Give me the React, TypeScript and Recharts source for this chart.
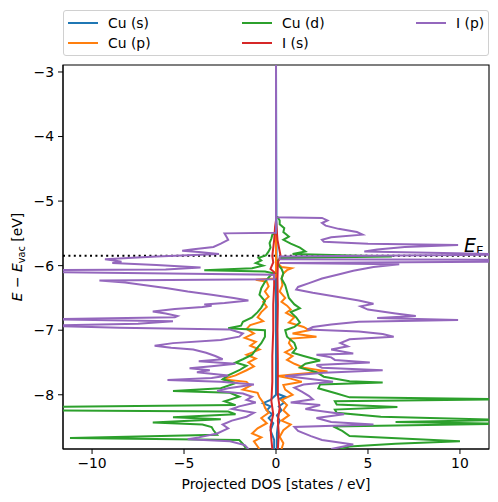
import { ScatterChart, Scatter, XAxis, YAxis, ReferenceLine, ReferenceArea } from 'recharts';

const FONT = '"DejaVu Sans", sans-serif';
const TOP = -2.8;
const E_FERMI = -5.845;

const xTicks = [-10, -5, 0, 5, 10];
const yTicks = [-8, -7, -6, -5, -4, -3];

// energies (eV) and projected DOS, spin up (+) and spin down (-)
const cuSUpE = [TOP, -7.98, -8.03, -8.06, -8.12, -8.18, -8.24, -8.32, -8.4, -8.48, -8.6, -8.84];
const cuSUpV = [0, 0.05, 0.5, 0.2, 0.45, 0.15, 0.3, 0.05, 0.2, 0.1, 0.05, 0.05];
const cuSDnE = [TOP, -8.0, -8.08, -8.13, -8.18, -8.24, -8.3, -8.36, -8.44, -8.55, -8.7, -8.84];
const cuSDnV = [0, 0, -0.3, -0.7, -0.3, -0.5, -0.2, -0.4, -0.15, -0.3, -0.1, -0.1];

const cuPUpE = [TOP, -5.85, -5.95, -6.02, -6.04, -6.07, -6.12, -6.2, -6.3, -6.4, -6.5, -6.56, -6.62, -6.68, -6.73, -6.8, -6.88, -6.95, -7.0, -7.05, -7.1, -7.13, -7.2, -7.28, -7.34, -7.4, -7.46, -7.52, -7.58, -7.64, -7.68, -7.71, -7.75, -7.8, -7.85, -7.92, -8.0, -8.08, -8.16, -8.24, -8.32, -8.4, -8.46, -8.55, -8.65, -8.75, -8.84];
const cuPUpV = [0, 0, 0.05, 0.3, 0.85, 0.6, 0.4, 0.3, 0.35, 0.2, 0.5, 0.3, 0.6, 0.8, 0.55, 1.0, 0.7, 1.5, 1.8, 0.9, 2.2, 0.8, 0.7, 0.9, 0.5, 0.9, 0.6, 1.0, 1.5, 2.8, 1.2, 0.1, 0.8, 1.4, 0.4, 0.5, 0.9, 0.3, 0.6, 0.4, 0.7, 0.3, 0.8, 0.4, 0.2, 0.4, 0.3];
const cuPDnE = [TOP, -6.17, -6.2, -6.22, -6.25, -6.32, -6.4, -6.48, -6.56, -6.64, -6.72, -6.8, -6.86, -6.92, -6.98, -7.05, -7.12, -7.18, -7.24, -7.3, -7.38, -7.44, -7.5, -7.56, -7.62, -7.7, -7.76, -7.8, -7.86, -7.92, -7.97, -8.04, -8.12, -8.2, -8.28, -8.36, -8.44, -8.52, -8.6, -8.66, -8.72, -8.84];
const cuPDnV = [0, 0, -0.1, -1.1, -0.5, -0.4, -0.6, -0.4, -0.7, -0.5, -0.8, -1.0, -0.7, -1.4, -1.6, -1.2, -1.7, -1.1, -1.4, -0.9, -1.6, -1.1, -1.5, -1.2, -1.6, -2.2, -2.9, -1.6, -1.4, -1.8, -1.0, -0.9, -0.7, -0.6, -0.4, -0.8, -0.5, -1.0, -1.3, -0.8, -1.2, -0.9];

const cuDUpE = [TOP, -5.24, -5.25, -5.3, -5.36, -5.42, -5.48, -5.55, -5.6, -5.66, -5.72, -5.78, -5.82, -5.86, -5.88, -5.92, -6.0, -6.05, -6.12, -6.2, -6.3, -6.4, -6.5, -6.6, -6.66, -6.72, -6.8, -6.88, -6.95, -7.0, -7.1, -7.2, -7.28, -7.35, -7.4, -7.47, -7.52, -7.58, -7.65, -7.72, -7.79, -7.81, -7.84, -7.9, -7.98, -8.04, -8.07, -8.1, -8.15, -8.19, -8.23, -8.28, -8.34, -8.39, -8.42, -8.45, -8.49, -8.56, -8.64, -8.72, -8.76, -8.8, -8.84];
const cuDUpV = [0, 0, 0.1, 0.2, 0.2, 0.45, 0.4, 0.7, 0.4, 0.8, 1.3, 1.6, 0.9, 6.3, 0.3, 0.1, 0.15, 0.3, 0.4, 0.3, 0.5, 0.6, 0.7, 1.0, 1.3, 0.8, 1.1, 1.3, 1.0, 0.5, 0.6, 1.0, 1.1, 0.9, 1.5, 2.4, 1.6, 1.3, 2.2, 2.6, 4.0, 5.8, 2.4, 2.3, 3.3, 4.0, 12.5, 3.2, 3.3, 6.6, 3.2, 3.3, 5.7, 12.5, 6.5, 12.5, 3.1, 3.6, 4.0, 10.0, 6.5, 4.0, 3.5];
const cuDDnE = [TOP, -5.5, -5.52, -5.58, -5.65, -5.72, -5.78, -5.84, -5.88, -5.92, -5.96, -6.0, -6.04, -6.07, -6.09, -6.12, -6.15, -6.25, -6.35, -6.45, -6.55, -6.65, -6.72, -6.8, -6.87, -6.93, -6.97, -7.0, -7.1, -7.2, -7.3, -7.38, -7.45, -7.5, -7.55, -7.62, -7.7, -7.76, -7.82, -7.9, -7.94, -7.97, -8.03, -8.1, -8.16, -8.19, -8.24, -8.26, -8.3, -8.35, -8.38, -8.43, -8.46, -8.5, -8.55, -8.62, -8.67, -8.7, -8.76, -8.84];
const cuDDnV = [0, 0, -0.2, -0.25, -0.35, -0.3, -0.4, -0.55, -0.95, -0.8, -1.1, -0.7, -1.3, -3.9, -0.6, -0.1, -0.3, -0.6, -0.8, -0.9, -0.6, -0.8, -1.0, -1.3, -1.8, -1.9, -2.6, -0.6, -0.6, -0.8, -1.1, -1.3, -1.8, -2.2, -1.6, -2.0, -2.6, -2.9, -2.2, -3.0, -5.6, -2.5, -2.0, -2.8, -2.2, -12.5, -12.5, -2.6, -2.2, -5.6, -3.0, -6.7, -4.0, -3.5, -3.4, -3.2, -11.2, -2.0, -1.8, -1.6];

const iSUpE = [TOP, -5.3, -5.6, -5.85, -5.95, -6.2, -6.6, -7.0, -7.5, -8.0, -8.2, -8.4, -8.6, -8.84];
const iSUpV = [0, 0, 0.08, 0.25, 0.1, 0.08, 0.1, 0.08, 0.1, 0.1, 0.2, 0.1, 0.15, 0.1];
const iSDnE = [TOP, -5.3, -5.4, -5.6, -5.85, -5.95, -6.05, -6.1, -6.3, -6.6, -7.0, -7.4, -7.8, -8.1, -8.3, -8.5, -8.7, -8.84];
const iSDnV = [0, 0, -0.05, -0.1, -0.2, -0.15, -0.3, -0.1, -0.1, -0.15, -0.15, -0.2, -0.2, -0.25, -0.15, -0.3, -0.25, -0.2];

const iPUpE = [TOP, -5.25, -5.26, -5.3, -5.34, -5.38, -5.43, -5.48, -5.52, -5.56, -5.6, -5.63, -5.66, -5.68, -5.71, -5.75, -5.78, -5.81, -5.83, -5.86, -5.9, -5.91, -5.94, -5.96, -5.98, -6.02, -6.08, -6.13, -6.2, -6.27, -6.33, -6.37, -6.42, -6.48, -6.54, -6.59, -6.63, -6.68, -6.74, -6.78, -6.81, -6.84, -6.87, -6.91, -6.95, -6.99, -7.02, -7.06, -7.1, -7.14, -7.2, -7.25, -7.3, -7.36, -7.38, -7.42, -7.46, -7.5, -7.54, -7.58, -7.62, -7.66, -7.71, -7.76, -7.8, -7.84, -7.89, -7.95, -8.02, -8.07, -8.12, -8.16, -8.22, -8.3, -8.36, -8.42, -8.46, -8.5, -8.56, -8.64, -8.7, -8.77, -8.84];
const iPUpV = [0, 0, 2.5, 2.8, 2.5, 2.7, 3.4, 4.4, 4.7, 3.0, 2.5, 2.6, 5.0, 9.9, 7.0, 5.5, 4.8, 10.5, 12.5, 0.2, 0.2, 12.5, 12.5, 0.2, 6.7, 5.3, 4.2, 3.5, 2.5, 1.8, 1.2, 1.1, 2.0, 3.3, 4.5, 5.3, 4.6, 5.0, 6.5, 7.6, 5.5, 9.9, 4.5, 3.0, 2.0, 1.7, 4.5, 5.8, 6.4, 4.0, 3.5, 3.9, 3.0, 4.2, 2.2, 3.0, 3.2, 5.1, 2.2, 2.5, 5.8, 2.6, 0.5, 2.0, 3.1, 1.5, 1.0, 1.4, 1.8, 2.0, 0.8, 2.4, 1.6, 3.7, 2.2, 3.0, 5.3, 1.0, 1.2, 1.9, 2.5, 4.2, 3.0];
const iPDnE = [TOP, -5.49, -5.5, -5.55, -5.6, -5.66, -5.71, -5.75, -5.77, -5.79, -5.82, -5.86, -5.9, -5.92, -5.94, -5.96, -5.99, -6.03, -6.06, -6.07, -6.1, -6.14, -6.21, -6.23, -6.26, -6.3, -6.35, -6.4, -6.45, -6.5, -6.54, -6.58, -6.6, -6.62, -6.64, -6.67, -6.71, -6.74, -6.78, -6.8, -6.83, -6.86, -6.9, -6.93, -6.96, -6.99, -7.05, -7.1, -7.15, -7.2, -7.24, -7.27, -7.3, -7.35, -7.4, -7.45, -7.48, -7.52, -7.56, -7.59, -7.62, -7.65, -7.7, -7.74, -7.77, -7.8, -7.84, -7.9, -7.94, -7.98, -8.03, -8.08, -8.12, -8.18, -8.22, -8.28, -8.34, -8.4, -8.46, -8.52, -8.6, -8.66, -8.69, -8.72, -8.78, -8.84];
const iPDnV = [0, 0, -2.8, -2.7, -2.6, -3.0, -3.4, -4.6, -5.1, -4.2, -3.1, -6.5, -9.3, -8.8, -8.4, -8.9, -6.5, -4.1, -6.0, -12.5, -12.5, -0.1, -0.1, -9.6, -8.2, -7.2, -5.9, -4.8, -3.5, -2.3, -1.5, -2.8, -3.9, -3.5, -4.0, -5.5, -6.7, -6.0, -5.35, -5.5, -12.5, -5.6, -7.5, -12.5, -8.5, -2.5, -1.8, -2.0, -3.0, -5.6, -6.6, -5.7, -4.5, -3.8, -3.3, -2.9, -4.2, -2.2, -3.5, -4.7, -3.6, -4.3, -2.6, -3.5, -5.9, -3.0, -1.2, -2.6, -3.2, -1.8, -1.3, -1.6, -1.1, -2.0, -2.4, -1.2, -1.6, -2.4, -2.9, -2.6, -3.2, -4.2, -4.8, -2.5, -1.7, -1.5];

const pts = (es: number[], vs: number[]) => es.map((e, i) => ({ e, v: vs[i] }));

const series = [
  { name: 'Cu (s)', color: '#1f77b4', up: pts(cuSUpE, cuSUpV), dn: pts(cuSDnE, cuSDnV) },
  { name: 'Cu (p)', color: '#ff7f0e', up: pts(cuPUpE, cuPUpV), dn: pts(cuPDnE, cuPDnV) },
  { name: 'Cu (d)', color: '#2ca02c', up: pts(cuDUpE, cuDUpV), dn: pts(cuDDnE, cuDDnV) },
  { name: 'I (s)', color: '#d62728', up: pts(iSUpE, iSUpV), dn: pts(iSDnE, iSDnV) },
  { name: 'I (p)', color: '#9467bd', up: pts(iPUpE, iPUpV), dn: pts(iPDnE, iPDnV) },
];

const minus = (t: number) => String(t).replace('-', '\u2212');
const noDot = () => <g />;

const legendPos = [
  { x: 4, y: 12 },
  { x: 4, y: 32 },
  { x: 178, y: 12 },
  { x: 178, y: 32 },
  { x: 352, y: 12 },
];

function EfLabel(props: any) {
  const vb = props.viewBox || {};
  return (
    <text x={vb.x + vb.width - 25} y={vb.y - 4} fontFamily={FONT} fontSize={19} fill="#000">
      <tspan fontStyle="italic">E</tspan>
      <tspan fontSize={13} dy={3}>F</tspan>
    </text>
  );
}

export default function App() {
  return (
    <div style={{ position: 'fixed', left: 0, top: 0, width: 498, height: 502, background: '#fff' }}>
      <ScatterChart width={498} height={502} margin={{ top: 65, right: 9, bottom: 23, left: 8 }}>
        <XAxis
          type="number"
          dataKey="v"
          domain={[-11.58, 11.58]}
          ticks={xTicks}
          allowDataOverflow
          height={30}
          tickSize={5}
          tickMargin={4}
          tickFormatter={minus}
          stroke="#000"
          tick={{ fill: '#000', fontSize: 13.9, fontFamily: FONT }}
          label={{
            content: () => (
              <text x={276} y={489} textAnchor="middle" fontFamily={FONT} fontSize={13.9} fill="#000">
                Projected DOS [states / eV]
              </text>
            ),
          }}
        />
        <YAxis
          type="number"
          dataKey="e"
          domain={[-8.84, -2.892]}
          ticks={yTicks}
          allowDataOverflow
          width={55}
          tickSize={5}
          tickMargin={4}
          tickFormatter={minus}
          stroke="#000"
          tick={{ fill: '#000', fontSize: 13.9, fontFamily: FONT }}
          label={{
            content: () => (
              <text
                x={22}
                y={257}
                transform="rotate(-90 22 257)"
                textAnchor="middle"
                fontFamily={FONT}
                fontSize={13.9}
                fill="#000"
              >
                <tspan fontStyle="italic">E</tspan>
                <tspan> {'\u2212'} </tspan>
                <tspan fontStyle="italic">E</tspan>
                <tspan fontSize={9.7} dy={3}>vac</tspan>
                <tspan dy={-3}> [eV]</tspan>
              </text>
            ),
          }}
        />
        {series.flatMap((s) => [
          <Scatter
            key={s.name + '-up'}
            data={s.up}
            fill={s.color}
            line={{ stroke: s.color, strokeWidth: 2 }}
            lineType="joint"
            shape={noDot}
            isAnimationActive={false}
          />,
          <Scatter
            key={s.name + '-dn'}
            data={s.dn}
            fill={s.color}
            line={{ stroke: s.color, strokeWidth: 2 }}
            lineType="joint"
            shape={noDot}
            isAnimationActive={false}
          />,
        ])}
        <ReferenceLine
          y={E_FERMI}
          stroke="#000"
          strokeWidth={2}
          strokeDasharray="2 3.4"
          label={(p: any) => <EfLabel {...p} />}
        />
        <ReferenceArea
          x1={-11.58}
          x2={11.58}
          y1={-8.84}
          y2={-2.892}
          fill="none"
          fillOpacity={0}
          stroke="#000"
          strokeWidth={1.1}
          ifOverflow="visible"
        />
      </ScatterChart>
      <div
        style={{
          position: 'absolute',
          left: 63,
          top: 10,
          width: 424,
          height: 44,
          border: '1px solid #d0d0d0',
          borderRadius: 3,
          background: '#fff',
          fontFamily: FONT,
          fontSize: 13.9,
          color: '#000',
        }}
      >
        {series.map((s, i) => (
          <div
            key={s.name}
            style={{ position: 'absolute', left: legendPos[i].x, top: legendPos[i].y - 9, height: 18, display: 'flex', alignItems: 'center' }}
          >
            <div style={{ width: 30, height: 2, background: s.color, marginRight: 10 }} />
            <span style={{ lineHeight: '18px' }}>{s.name}</span>
          </div>
        ))}
      </div>
    </div>
  );
}
